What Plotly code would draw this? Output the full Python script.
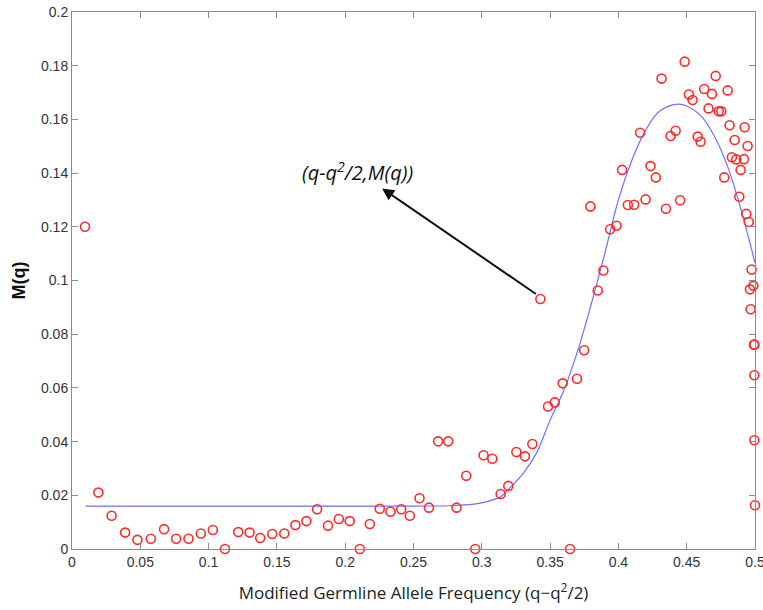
import plotly.graph_objects as go

# Observed points (x = q - q^2/2, y = M(q))
x_obs = [0.0095, 0.0193, 0.029, 0.0389, 0.0479, 0.0577, 0.0674, 0.0762, 0.0853, 0.0943,
         0.1031, 0.112, 0.1217, 0.130, 0.1378, 0.1466, 0.1554, 0.1635, 0.1716, 0.1794,
         0.1874, 0.1953, 0.2033, 0.2107, 0.218, 0.2253, 0.2331, 0.241, 0.2473, 0.2544,
         0.2613, 0.268, 0.2754, 0.2815, 0.2886, 0.2952, 0.3013, 0.3077, 0.3138, 0.3194,
         0.3253, 0.3316, 0.337, 0.3429, 0.3485, 0.3534, 0.3592, 0.3646, 0.3697, 0.3749,
         0.3795, 0.3849, 0.389, 0.3939, 0.3986, 0.4027, 0.4069, 0.4115, 0.4159, 0.4199,
         0.4235, 0.4274, 0.4316, 0.4348, 0.4382, 0.4419, 0.4452, 0.4485, 0.4516, 0.4543,
         0.458, 0.4602, 0.4628, 0.466, 0.4685, 0.4712, 0.4734, 0.4753, 0.4775, 0.48,
         0.4814, 0.4831, 0.4851, 0.4863, 0.4885, 0.4895, 0.4919, 0.4924, 0.4946, 0.4936,
         0.4954, 0.4975, 0.4988, 0.4963, 0.4968, 0.4992, 0.4996, 0.4995, 0.4995, 0.50]
y_obs = [0.120, 0.021, 0.0124, 0.0061, 0.0034, 0.0038, 0.0074, 0.0038, 0.0038, 0.0058,
         0.0071, 0.0, 0.0063, 0.0061, 0.0041, 0.0056, 0.0058, 0.0089, 0.0104, 0.0148,
         0.0087, 0.0112, 0.0104, 0.0, 0.0093, 0.015, 0.0139, 0.0148, 0.0124, 0.0189,
         0.0154, 0.0401, 0.0401, 0.0154, 0.0273, 0.0, 0.0349, 0.0336, 0.0205, 0.0235,
         0.0361, 0.0345, 0.0391, 0.0931, 0.0531, 0.0546, 0.0617, 0.0, 0.0634, 0.074,
         0.1276, 0.0963, 0.1037, 0.1191, 0.1204, 0.1412, 0.1281, 0.1282, 0.155, 0.1302,
         0.1426, 0.1384, 0.1752, 0.1267, 0.1538, 0.1558, 0.1299, 0.1815, 0.1693, 0.1672,
         0.1536, 0.1517, 0.1713, 0.1641, 0.1695, 0.1762, 0.163, 0.163, 0.1384, 0.1708,
         0.1578, 0.1459, 0.1523, 0.1451, 0.1312, 0.1412, 0.1452, 0.1571, 0.1501, 0.1248,
         0.1218, 0.1041, 0.098, 0.0967, 0.0893, 0.0761, 0.0761, 0.0647, 0.0405, 0.0163]

# Fitted curve
curve_x = [0.01, 0.10, 0.20, 0.25, 0.28, 0.30, 0.3138, 0.3194, 0.33, 0.34, 0.35, 0.36,
           0.37, 0.38, 0.39, 0.40, 0.41, 0.42, 0.43, 0.4433, 0.45, 0.46, 0.47, 0.48,
           0.49, 0.50]
curve_y = [0.016, 0.016, 0.016, 0.016, 0.0162, 0.0172, 0.0195, 0.0222, 0.028, 0.0357,
           0.048, 0.059, 0.0735, 0.091, 0.110, 0.130, 0.145, 0.156, 0.163, 0.1657,
           0.165, 0.1616, 0.154, 0.1424, 0.126, 0.1065]

x_ticks = [0, 0.05, 0.1, 0.15, 0.2, 0.25, 0.3, 0.35, 0.4, 0.45, 0.5]
x_tick_text = ["0", "0.05", "0.1", "0.15", "0.2", "0.25", "0.3", "0.35", "0.4", "0.45", "0.5"]
y_ticks = [0, 0.02, 0.04, 0.06, 0.08, 0.1, 0.12, 0.14, 0.16, 0.18, 0.2]
y_tick_text = ["0", "0.02", "0.04", "0.06", "0.08", "0.1", "0.12", "0.14", "0.16", "0.18", "0.2"]

# Annotation: label position and the arrow tail (observed point)
label_text = "(q-q<sup>2</sup>/2,M(q))"
arrow_head = (0.227, 0.1343)
arrow_tail = (0.3407, 0.0946)
label_pos = (0.2087, 0.1405)

fig = go.Figure()
fig.add_trace(go.Scatter(
    x=curve_x, y=curve_y, mode="lines", line=dict(color="#6f6fff", width=1.2, shape="spline"),
    hoverinfo="skip", showlegend=False))
fig.add_trace(go.Scatter(
    x=x_obs, y=y_obs, mode="markers",
    marker=dict(symbol="circle-open", size=9, color="#ff2a2a", line=dict(width=1.6)),
    showlegend=False, cliponaxis=False))

fig.add_annotation(x=arrow_head[0], y=arrow_head[1], ax=arrow_tail[0], ay=arrow_tail[1],
                   xref="x", yref="y", axref="x", ayref="y", text="",
                   showarrow=True, arrowhead=2, arrowsize=1.2, arrowwidth=2, arrowcolor="#111111")
fig.add_annotation(x=label_pos[0], y=label_pos[1], xref="x", yref="y", text="<i>" + label_text + "</i>",
                   showarrow=False, font=dict(family="Open Sans", size=20, color="#111111"))

axis_common = dict(showgrid=False, zeroline=False, showline=True, linecolor="#8c8c8c", linewidth=1,
                   mirror="ticks", ticks="inside", ticklen=6, tickcolor="#8c8c8c",
                   ticklabeloverflow="allow",
                   tickfont=dict(family="Liberation Sans", size=14, color="#333333"))
fig.update_xaxes(range=[0, 0.5], tickvals=x_ticks, ticktext=x_tick_text,
                 title=dict(text="Modified Germline Allele Frequency (q\u2212q<sup>2</sup>/2)",
                            font=dict(family="Open Sans", size=17, color="#222222"), standoff=18),
                 **axis_common)
fig.update_yaxes(range=[0, 0.2], tickvals=y_ticks, ticktext=y_tick_text,
                 title=dict(text="<b>M(q)</b>", font=dict(family="Liberation Sans", size=18, color="#111111"),
                            standoff=10),
                 **axis_common)
fig.update_layout(width=763, height=610, margin=dict(l=72, r=8, t=12, b=61, autoexpand=False),
                  plot_bgcolor="white", paper_bgcolor="white")
fig.write_html("out.html", config={"displayModeBar": False},
               post_script="document.body.style.margin='0';document.body.style.padding='0';")
